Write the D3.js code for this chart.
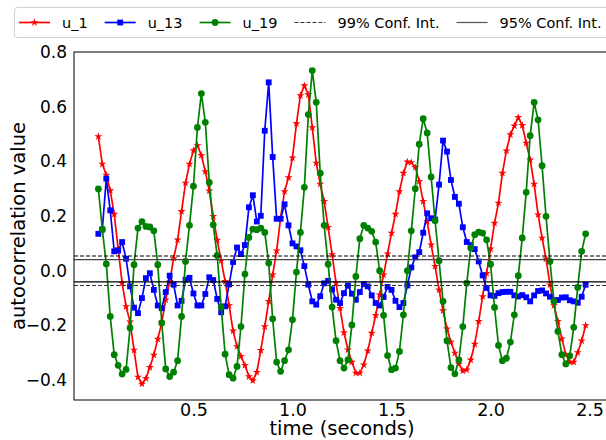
<!DOCTYPE html>
<html>
<head>
<meta charset="utf-8">
<script src="https://d3js.org/d3.v7.min.js"></script>
<style>
  html, body { margin: 0; padding: 0; background: #fff; }
  svg { display: block; font-family: "DejaVu Sans", sans-serif; }
</style>
</head>
<body>
<svg id="chart" width="606" height="440"></svg>
<script>
// autocorrelation of three signals, lags every 0.02 s
var u1 = [0.491, 0.390, 0.350, 0.293, 0.207, 0.080, -0.045, -0.131, -0.187, -0.290,
  -0.389, -0.414, -0.394, -0.353, -0.308, -0.250, -0.190, -0.106, -0.040, 0.045,
  0.113, 0.217, 0.321, 0.390, 0.440, 0.458, 0.422, 0.363, 0.292, 0.199,
  0.112, 0.037, -0.039, -0.127, -0.220, -0.277, -0.313, -0.346, -0.387, -0.402,
  -0.371, -0.291, -0.204, -0.112, -0.015, 0.073, 0.193, 0.290, 0.341, 0.413,
  0.538, 0.641, 0.677, 0.644, 0.524, 0.394, 0.317, 0.254, 0.159, 0.059,
  -0.045, -0.137, -0.226, -0.289, -0.334, -0.374, -0.374, -0.344, -0.293, -0.228,
  -0.163, -0.088, -0.015, 0.062, 0.138, 0.207, 0.290, 0.357, 0.398, 0.396,
  0.378, 0.327, 0.254, 0.180, 0.095, 0.016, -0.070, -0.146, -0.212, -0.261,
  -0.301, -0.341, -0.366, -0.362, -0.326, -0.268, -0.185, -0.094, -0.009, 0.080,
  0.174, 0.248, 0.357, 0.439, 0.498, 0.530, 0.561, 0.532, 0.467, 0.406,
  0.317, 0.205, 0.120, 0.044, -0.051, -0.127, -0.185, -0.249, -0.307, -0.334,
  -0.334, -0.299, -0.256, -0.200];

var u13 = [0.135, 0.151, 0.337, 0.221, 0.071, 0.074, 0.105, 0.044, -0.057, -0.135,
  -0.155, -0.100, -0.027, -0.009, -0.070, -0.127, -0.137, -0.078, -0.018, -0.051,
  -0.127, -0.110, -0.033, -0.026, -0.083, -0.127, -0.127, -0.085, -0.024, -0.034,
  -0.103, -0.152, -0.130, -0.050, 0.032, 0.085, 0.061, 0.094, 0.232, 0.276,
  0.180, 0.201, 0.512, 0.689, 0.416, 0.190, 0.190, 0.243, 0.166, 0.100,
  0.089, 0.075, 0.017, -0.051, -0.112, -0.124, -0.093, -0.046, -0.037, -0.068,
  -0.106, -0.118, -0.082, -0.054, -0.084, -0.106, -0.078, -0.049, -0.057, -0.090,
  -0.118, -0.127, -0.096, -0.059, -0.070, -0.110, -0.133, -0.118, -0.054, 0.012,
  0.049, 0.068, 0.139, 0.210, 0.192, 0.187, 0.315, 0.476, 0.436, 0.332,
  0.270, 0.245, 0.159, 0.105, 0.094, 0.079, 0.034, -0.017, -0.063, -0.090,
  -0.092, -0.082, -0.078, -0.077, -0.077, -0.090, -0.094, -0.089, -0.097, -0.112,
  -0.090, -0.074, -0.072, -0.083, -0.095, -0.108, -0.107, -0.098, -0.097, -0.108,
  -0.112, -0.117, -0.095, -0.051];

var u19 = [0.299, 0.151, 0.025, -0.167, -0.307, -0.346, -0.378, -0.361, -0.209, 0.022,
  0.156, 0.180, 0.162, 0.160, 0.146, 0.022, -0.191, -0.359, -0.387, -0.371,
  -0.329, -0.167, 0.034, 0.166, 0.309, 0.524, 0.648, 0.543, 0.323, 0.168,
  0.056, -0.133, -0.305, -0.380, -0.393, -0.350, -0.204, -0.012, 0.122, 0.152,
  0.150, 0.156, 0.140, 0.028, -0.176, -0.334, -0.368, -0.329, -0.289, -0.179,
  -0.005, 0.140, 0.305, 0.571, 0.732, 0.616, 0.357, 0.166, 0.024, -0.133,
  -0.256, -0.329, -0.356, -0.326, -0.198, -0.021, 0.117, 0.166, 0.156, 0.144,
  0.105, 0.000, -0.163, -0.310, -0.362, -0.356, -0.295, -0.161, 0.000, 0.146,
  0.300, 0.463, 0.556, 0.504, 0.343, 0.183, 0.037, -0.112, -0.256, -0.354,
  -0.377, -0.326, -0.204, -0.045, 0.083, 0.132, 0.141, 0.138, 0.113, 0.024,
  -0.134, -0.273, -0.329, -0.320, -0.261, -0.161, -0.018, 0.120, 0.287, 0.494,
  0.616, 0.552, 0.384, 0.199, 0.034, -0.112, -0.222, -0.307, -0.341, -0.311,
  -0.207, -0.061, 0.071, 0.135];

var lagStep = 0.02;
var conf99 = 0.054;
var conf95 = 0.041;

var xTicks = [0.5, 1.0, 1.5, 2.0, 2.5];
var yTicks = [-0.4, -0.2, 0.0, 0.2, 0.4, 0.6, 0.8];

var series = [
  { name: 'u_1', values: u1, color: '#ff0000', symbol: d3.symbolStar, size: 20 },
  { name: 'u_13', values: u13, color: '#0000ff', symbol: d3.symbolSquare, size: 34 },
  { name: 'u_19', values: u19, color: '#008000', symbol: d3.symbolCircle, size: 36 }
];

var svg = d3.select('#chart');
var plotLeft = 74, plotRight = 610, plotTop = 52, plotBottom = 400;

var x = d3.scaleLinear().domain([-0.103, 2.603]).range([plotLeft, plotRight]);
var y = d3.scaleLinear().domain([-0.4727, 0.8]).range([plotBottom, plotTop]);

function lag(i) { return (i + 1) * lagStep; }

// tick labels (no tick marks)
svg.append('g')
  .attr('transform', 'translate(0,' + plotBottom + ')')
  .call(d3.axisBottom(x).tickValues(xTicks).tickSize(0).tickPadding(4).tickFormat(d3.format('.1f')))
  .call(function(g) {
    g.select('.domain').remove();
    g.selectAll('text').attr('font-size', 17.5).attr('fill', '#000')
      .attr('font-family', '"DejaVu Sans", sans-serif');
  });

svg.append('g')
  .attr('transform', 'translate(' + plotLeft + ',0)')
  .call(d3.axisLeft(y).tickValues(yTicks).tickSize(0).tickPadding(7)
    .tickFormat(function(d) { return d3.format('.1f')(d).replace('-', '\u2212'); }))
  .call(function(g) {
    g.select('.domain').remove();
    g.selectAll('text').attr('font-size', 17).attr('fill', '#000')
      .attr('font-family', '"DejaVu Sans", sans-serif');
  });

// series
var plot = svg.append('g');
series.forEach(function(s) {
  var line = d3.line()
    .x(function(d, i) { return x(lag(i)); })
    .y(function(d) { return y(d); });
  plot.append('path')
    .datum(s.values)
    .attr('fill', 'none')
    .attr('stroke', s.color)
    .attr('stroke-width', 1.7)
    .attr('d', line);
  plot.append('g')
    .selectAll('path')
    .data(s.values)
    .join('path')
    .attr('transform', function(d, i) { return 'translate(' + x(lag(i)) + ',' + y(d) + ')'; })
    .attr('d', d3.symbol().type(s.symbol).size(s.size))
    .attr('fill', s.color);
});

// confidence bands
var bands = [
  { v: conf99, dash: '4,2', color: '#000' },
  { v: -conf99, dash: '4,2', color: '#333' },
  { v: conf95, dash: null, color: '#444' },
  { v: -conf95, dash: null, color: '#000' }
];
svg.append('g')
  .selectAll('line')
  .data(bands)
  .join('line')
  .attr('x1', plotLeft).attr('x2', plotRight)
  .attr('y1', function(d) { return y(d.v); })
  .attr('y2', function(d) { return y(d.v); })
  .attr('stroke', function(d) { return d.color; })
  .attr('stroke-width', 1.2)
  .attr('stroke-dasharray', function(d) { return d.dash; });

// spines
svg.append('rect')
  .attr('x', plotLeft).attr('y', plotTop)
  .attr('width', plotRight - plotLeft).attr('height', plotBottom - plotTop)
  .attr('fill', 'none').attr('stroke', '#000').attr('stroke-width', 1);

// axis labels
svg.append('text')
  .attr('x', (plotLeft + plotRight) / 2).attr('y', 435)
  .attr('text-anchor', 'middle').attr('font-size', 19.5)
  .text('time (seconds)');
svg.append('text')
  .attr('transform', 'translate(25,' + ((plotTop + plotBottom) / 2) + ') rotate(-90)')
  .attr('text-anchor', 'middle').attr('font-size', 19.5)
  .text('autocorrelation value');

// legend
var legend = svg.append('g');
legend.append('rect')
  .attr('x', 14.5).attr('y', 7.5).attr('width', 640).attr('height', 30)
  .attr('rx', 3).attr('fill', '#fff').attr('stroke', '#d0d0d0');

var legendItems = series.map(function(s) {
  return { name: s.name, color: s.color, symbol: s.symbol, size: s.size, dash: null };
}).concat([
  { name: '99% Conf. Int.', color: '#333', dash: '4,2' },
  { name: '95% Conf. Int.', color: '#555', dash: null }
]);

var cx = 19, ly = 22.5;
legendItems.forEach(function(it) {
  legend.append('line')
    .attr('x1', cx).attr('x2', cx + 31).attr('y1', ly).attr('y2', ly)
    .attr('stroke', it.color).attr('stroke-width', it.symbol ? 1.7 : 1.2)
    .attr('stroke-dasharray', it.dash);
  if (it.symbol) {
    legend.append('path')
      .attr('transform', 'translate(' + (cx + 15.5) + ',' + ly + ')')
      .attr('d', d3.symbol().type(it.symbol).size(it.size))
      .attr('fill', it.color);
  }
  var t = legend.append('text')
    .attr('x', cx + 43).attr('y', ly).attr('dy', '0.36em')
    .attr('font-size', 14.5).text(it.name);
  cx = cx + 43 + t.node().getComputedTextLength() + 17;
});
</script>
</body>
</html>
